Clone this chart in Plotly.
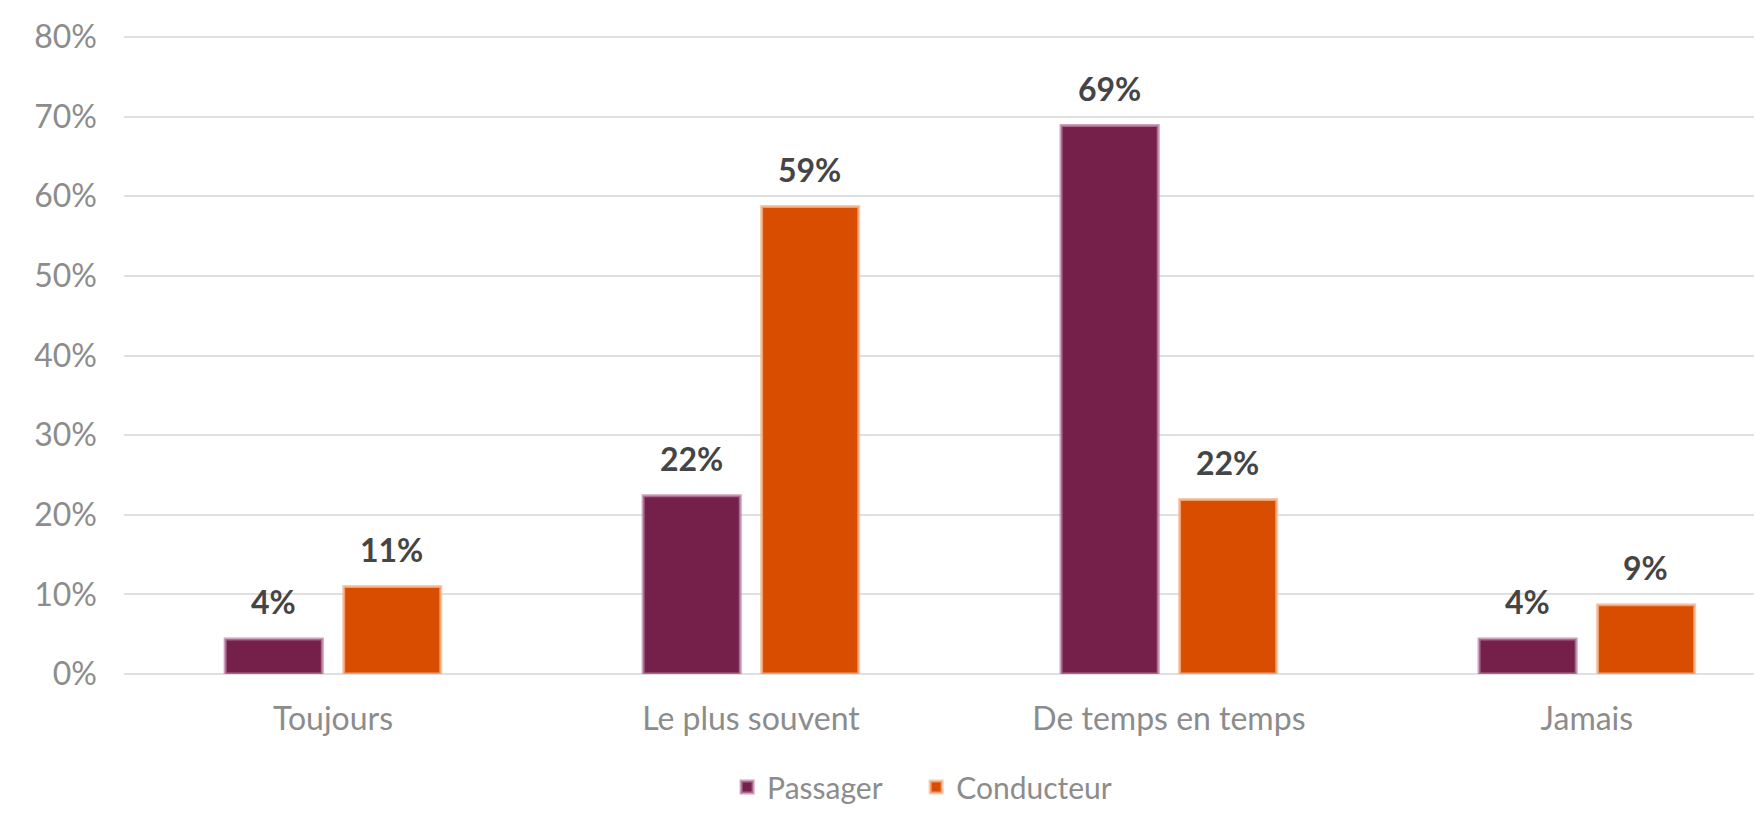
import plotly.graph_objects as go

categories = ["Toujours", "Le plus souvent", "De temps en temps", "Jamais"]
passager = [4.4, 22.4, 68.9, 4.4]
conducteur = [11.0, 58.7, 21.9, 8.7]
series_names = ["Passager", "Conducteur"]
y_ticks = [0, 10, 20, 30, 40, 50, 60, 70, 80]
y_tick_labels = ["0%", "10%", "20%", "30%", "40%", "50%", "60%", "70%", "80%"]

FONT = "Lato"
fig = go.Figure()
fig.add_trace(go.Bar(
    name=series_names[0], x=categories, y=passager, legend="legend",
    marker=dict(color="#74204a", line=dict(color="rgba(190,130,165,0.75)", width=3)),
    hoverinfo="skip",
))
fig.add_trace(go.Bar(
    name=series_names[1], x=categories, y=conducteur, legend="legend2",
    marker=dict(color="#d94d00", line=dict(color="rgba(245,185,150,0.75)", width=3)),
    hoverinfo="skip",
))

slot_half = 59
annotations = []
for vals, shift in ((passager, -slot_half), (conducteur, slot_half)):
    for c, v in zip(categories, vals):
        annotations.append(dict(
            x=c, y=v, xref="x", yref="y", text=f"{v:.0f}%", showarrow=False,
            xshift=shift, yshift=37, yanchor="middle",
            font=dict(family=FONT, size=32, color="#454545", weight="bold"),
        ))

TICKFONT = dict(family=FONT, size=32, color="#8c8c8c")
LEGFONT = dict(family=FONT, size=30, color="#8c8c8c")
fig.update_layout(
    width=1754, height=805,
    margin=dict(l=116, r=0, t=27, b=139, autoexpand=False),
    paper_bgcolor="white", plot_bgcolor="white",
    barmode="group", bargap=0.433, bargroupgap=0.18,
    font=TICKFONT,
    showlegend=True,
    legend=dict(orientation="h", x=0.3682, xanchor="left", y=-0.2175, yanchor="bottom",
                font=LEGFONT, borderwidth=0),
    legend2=dict(orientation="h", x=0.4836, xanchor="left", y=-0.2175, yanchor="bottom",
                 font=LEGFONT, borderwidth=0),
    annotations=annotations,
)
fig.update_xaxes(range=[-0.5, 3.419], showgrid=False, showline=False, ticks="",
                 ticklabelstandoff=23, tickfont=TICKFONT)
fig.update_yaxes(range=[0, 80.25], tickmode="array", tickvals=y_ticks, ticktext=y_tick_labels,
                 showgrid=True, gridcolor="#e0e0e0", gridwidth=2, zeroline=True,
                 zerolinecolor="#e0e0e0", zerolinewidth=2, showline=False, ticks="",
                 ticklabelstandoff=26, tickfont=TICKFONT)

fig.write_html("out.html")
